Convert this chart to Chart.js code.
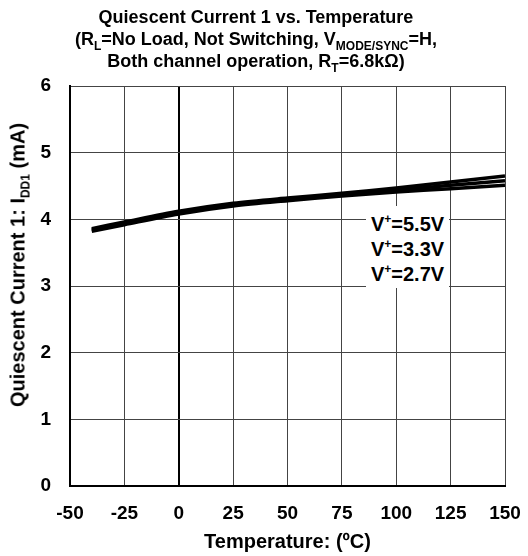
<!DOCTYPE html>
<html lang="en">
<head>
    <meta charset="UTF-8">
    <title>Quiescent Current 1 vs. Temperature</title>
    <style>
        body {
            margin: 0;
            padding: 0;
            background: #fff;
            font-family: "Liberation Sans", Arial, sans-serif;
        }

        .wrap {
            position: relative;
            width: 528px;
            height: 556px;
        }

        .title {
            position: absolute;
            left: 0;
            top: 6px;
            width: 512px;
            text-align: center;
            font-weight: bold;
            font-size: 18px;
            line-height: 22px;
            color: #000;
        }

        .ytitle {
            position: absolute;
            left: 18px;
            top: 265px;
            transform: translate(-50%, -50%) rotate(-90deg);
            white-space: nowrap;
            font-weight: bold;
            font-size: 20px;
            color: #000;
        }

        .legend {
            position: absolute;
            left: 366px;
            top: 206px;
            width: 83px;
            height: 82px;
            background: #fff;
            font-weight: bold;
            font-size: 20px;
            line-height: 25px;
            text-align: center;
            padding-top: 6px;
            box-sizing: border-box;
            white-space: nowrap;
        }

        sub, sup {
            font-size: 12px;
            line-height: 0;
        }

        canvas {
            position: absolute;
            left: 0;
            top: 0;
        }
    </style>
</head>
<body>
    <div class="wrap">
        <canvas id="chart" width="528" height="556"></canvas>
        <div class="title">
            Quiescent Current 1 vs. Temperature<br>
            (R<sub>L</sub>=No Load, Not Switching, V<sub>MODE/SYNC</sub>=H,<br>
            Both channel operation, R<sub>T</sub>=6.8k&Omega;)
        </div>
        <div class="ytitle">Quiescent Current 1: I<sub>DD1</sub> (mA)</div>
        <div class="legend">
            V<sup>+</sup>=5.5V<br>
            V<sup>+</sup>=3.3V<br>
            V<sup>+</sup>=2.7V
        </div>
    </div>

    <script src="https://cdn.jsdelivr.net/npm/chart.js"></script>
    <script>
        // values
        const temps = [-40, -25, 0, 25, 50, 75, 100, 125, 150];
        const idd55 = [3.86, 3.96, 4.12, 4.24, 4.32, 4.39, 4.47, 4.56, 4.65];
        const idd33 = [3.84, 3.94, 4.10, 4.22, 4.30, 4.37, 4.44, 4.51, 4.58];
        const idd27 = [3.82, 3.92, 4.08, 4.20, 4.28, 4.35, 4.41, 4.46, 4.51];
        const xTicks = [-50, -25, 0, 25, 50, 75, 100, 125, 150];
        const yTicks = [0, 1, 2, 3, 4, 5, 6];

        function series(vals) {
            return {
                data: temps.map((t, i) => ({ x: t, y: vals[i] })),
                borderColor: '#000',
                borderWidth: 3.5,
                pointRadius: 0,
                tension: 0.3,
                fill: false
            };
        }

        const tickFont = { family: '"Liberation Sans", Arial', size: 19, weight: 'bold' };

        new Chart(document.getElementById('chart'), {
            type: 'line',
            data: {
                datasets: [series(idd55), series(idd33), series(idd27)]
            },
            options: {
                responsive: false,
                animation: false,
                layout: { padding: { top: 86, right: 23, left: 0, bottom: 0 } },
                plugins: {
                    legend: { display: false },
                    tooltip: { enabled: false }
                },
                scales: {
                    x: {
                        type: 'linear',
                        min: -50,
                        max: 150,
                        afterBuildTicks: (s) => { s.ticks = xTicks.map(v => ({ value: v })); },
                        afterFit: (s) => {
                            s.height = 70;
                            s.paddingLeft = 0;
                            s.paddingRight = 0;
                        },
                        ticks: { color: '#000', font: tickFont, padding: 16, maxRotation: 0 },
                        grid: {
                            drawTicks: false,
                            color: (c) => c.tick && c.tick.value === 0 ? '#000' : '#444',
                            lineWidth: (c) => c.tick && c.tick.value === 0 ? 2 : 1
                        },
                        border: { color: '#000', width: 2 },
                        title: {
                            display: true,
                            text: 'Temperature: (ºC)',
                            color: '#000',
                            font: { family: '"Liberation Sans", Arial', size: 20, weight: 'bold' },
                            padding: { top: 0, bottom: 2 }
                        }
                    },
                    y: {
                        min: 0,
                        max: 6,
                        afterBuildTicks: (s) => { s.ticks = yTicks.map(v => ({ value: v })); },
                        afterFit: (s) => {
                            s.width = 70;
                            s.paddingTop = 0;
                            s.paddingBottom = 0;
                        },
                        ticks: { color: '#000', font: tickFont, padding: 19 },
                        grid: { drawTicks: false, color: '#444', lineWidth: 1 },
                        border: { color: '#000', width: 2 }
                    }
                }
            }
        });
    </script>
</body>
</html>
